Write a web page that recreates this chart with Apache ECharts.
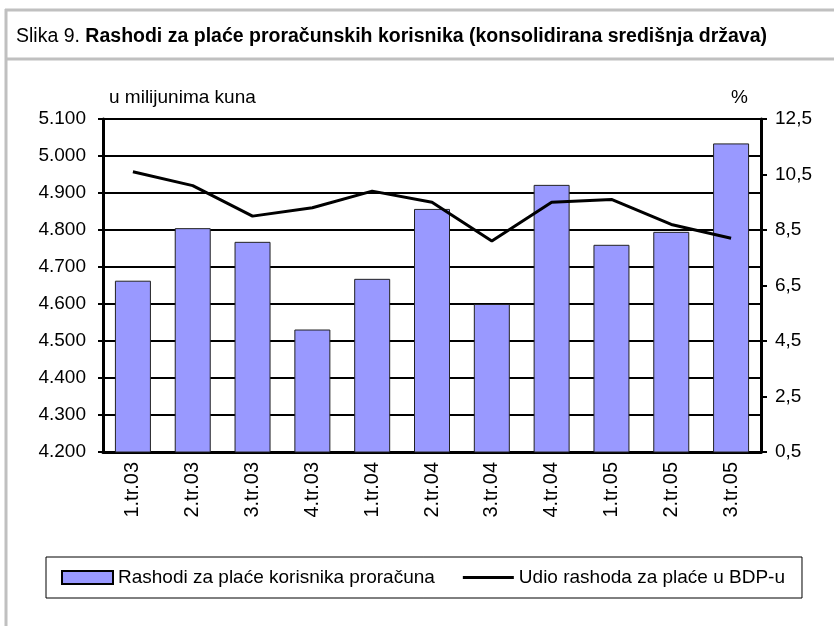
<!DOCTYPE html>
<html>
<head>
<meta charset="utf-8">
<script src="https://cdn.jsdelivr.net/npm/echarts@6/dist/echarts.min.js"></script>
<style>
  html, body { margin: 0; padding: 0; background: #fff; }
  #chart { width: 834px; height: 626px; }
</style>
</head>
<body>
<div id="chart"></div>
<script>
  // kvartali
  const categories = ['1.tr.03', '2.tr.03', '3.tr.03', '4.tr.03', '1.tr.04', '2.tr.04',
    '3.tr.04', '4.tr.04', '1.tr.05', '2.tr.05', '3.tr.05']
  // rashodi za plaće, u milijunima kuna
  const rashodi = [4663, 4805, 4768, 4531, 4668, 4857, 4600, 4922, 4760, 4795, 5034]
  // udio u BDP-u, %
  const udio = [10.6, 10.1, 9.0, 9.3, 9.9, 9.5, 8.1, 9.5, 9.6, 8.7, 8.2]

  const seriesNames = ['Rashodi za plaće korisnika proračuna', 'Udio rashoda za plaće u BDP-u']
  const font = 'Liberation Sans, Arial, sans-serif'
  const frame = '#c0c0c0'

  const chart = echarts.init(document.getElementById('chart'))
  chart.setOption({
    animation: false,
    textStyle: { fontFamily: font },
    title: {
      left: 11,
      top: 22,
      text: '{n|Slika 9. }{b|Rashodi za plaće proračunskih korisnika (konsolidirana središnja država)}',
      textStyle: {
        rich: {
          n: { fontFamily: font, fontSize: 19.5, fontWeight: 'normal', color: '#000' },
          b: { fontFamily: font, fontSize: 19.5, fontWeight: 'bold', color: '#000' }
        }
      }
    },
    // sivi okvir slike
    graphic: [
      { type: 'line', shape: { x1: 5, y1: 10, x2: 834, y2: 10 }, style: { stroke: frame, lineWidth: 3 } },
      { type: 'line', shape: { x1: 5, y1: 59, x2: 834, y2: 59 }, style: { stroke: frame, lineWidth: 3 } },
      { type: 'line', shape: { x1: 6, y1: 9, x2: 6, y2: 626 }, style: { stroke: frame, lineWidth: 3 } }
    ],
    grid: {
      left: 103,
      right: 73,
      top: 119,
      bottom: 174
    },
    legend: {
      left: 46,
      top: 557,
      padding: [11, 17, 11, 15],
      borderColor: '#000',
      borderWidth: 1,
      itemWidth: 51,
      itemHeight: 13,
      itemGap: 28,
      data: [
        { name: seriesNames[0], icon: 'rect', itemStyle: { borderColor: '#000', borderWidth: 2 } },
        { name: seriesNames[1], icon: 'path://M0,0L0,0M0,5L51,5L51,8L0,8ZM51,13L51,13' }
      ],
      textStyle: { fontFamily: font, fontSize: 19, color: '#000' }
    },
    xAxis: {
      type: 'category',
      data: categories,
      axisLine: { lineStyle: { color: '#000', width: 3 } },
      axisTick: { length: 5, lineStyle: { color: '#000', width: 2 } },
      axisLabel: {
        rotate: 90,
        margin: 10,
        color: '#000',
        fontSize: 20
      }
    },
    yAxis: [
      {
        type: 'value',
        min: 4200,
        max: 5100,
        interval: 100,
        name: 'u milijunima kuna',
        nameLocation: 'end',
        nameGap: 12,
        nameTextStyle: { color: '#000', fontSize: 19, align: 'left', padding: [0, 0, 0, 6] },
        axisLine: { show: true, lineStyle: { color: '#000', width: 3 } },
        axisTick: { show: true, length: 5, lineStyle: { color: '#000', width: 2 } },
        axisLabel: {
          color: '#000',
          fontSize: 19,
          margin: 17,
          formatter: v => (v / 1000).toFixed(3)
        },
        splitLine: { lineStyle: { color: '#000', width: 2 } }
      },
      {
        type: 'value',
        min: 0.5,
        max: 12.5,
        interval: 2,
        name: '%',
        nameLocation: 'end',
        nameGap: 12,
        nameTextStyle: { color: '#000', fontSize: 19, align: 'right', padding: [0, 13, 0, 0] },
        axisLine: { show: true, lineStyle: { color: '#000', width: 3 } },
        axisTick: { show: true, length: 6, lineStyle: { color: '#000', width: 2 } },
        axisLabel: {
          color: '#000',
          fontSize: 19,
          margin: 14,
          formatter: v => v.toFixed(1).replace('.', ',')
        },
        splitLine: { show: false }
      }
    ],
    series: [
      {
        name: seriesNames[0],
        type: 'bar',
        yAxisIndex: 0,
        barWidth: 36,
        itemStyle: { color: '#9999ff', borderColor: '#222', borderWidth: 1 },
        data: rashodi
      },
      {
        name: seriesNames[1],
        type: 'line',
        yAxisIndex: 1,
        symbol: 'none',
        lineStyle: { color: '#000', width: 3 },
        itemStyle: { color: '#000' },
        data: udio
      }
    ]
  })
</script>
</body>
</html>
